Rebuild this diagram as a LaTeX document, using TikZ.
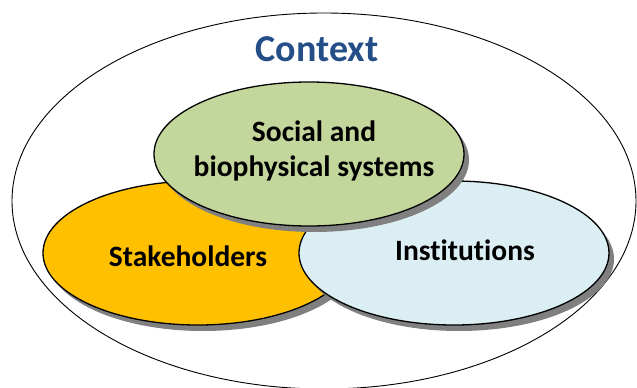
\documentclass[tikz,border=0pt]{standalone}
\usepackage{fontspec}
\setmainfont[Ligatures=NoCommon]{Carlito}
\usetikzlibrary{shapes.geometric}
\usetikzlibrary{shadows}
\definecolor{ctxblue}{RGB}{35,78,135}
\definecolor{stakeorange}{RGB}{255,192,0}
\definecolor{socgreen}{RGB}{195,214,155}
\definecolor{instblue}{RGB}{219,238,244}
\tikzstyle{blob}=[ellipse,draw,line width=1.3pt,minimum width=310pt,minimum height=144pt,inner sep=0pt,drop shadow={shadow xshift=5pt,shadow yshift=-6pt,fill=black!50,opacity=1}]
\tikzstyle{blobtext} = [font=\fontsize{29.5}{35}\selectfont\bfseries,align=center,inner sep=0pt]
\begin{document}
\begin{tikzpicture}[x=1pt,y=-1pt]

   \useasboundingbox (0,0) rectangle (637,388);
   \draw[line width=0.9pt] (324,201) ellipse (312 and 188);

   \node[font=\fontsize{38}{42}\selectfont\bfseries,text=ctxblue] (ctx) at (317,49) {Context};

    % the three overlapping blobs, back to front
    \foreach \pos/ \name / \col in {(198,253)/stake/stakeorange,(454,253)/inst/instblue,(309,154)/socbio/socgreen}
        \node[blob,fill=\col] (\name) at \pos {};

    \foreach \pos/ \name / \label in {(188,256)/stakelbl/Stakeholders,(465,250)/instlbl/Institutions,(314,151)/socbiolbl/{Social and\\biophysical systems}}
	   \node[blobtext] (\name) at \pos {\label};

\end{tikzpicture}
\end{document}
